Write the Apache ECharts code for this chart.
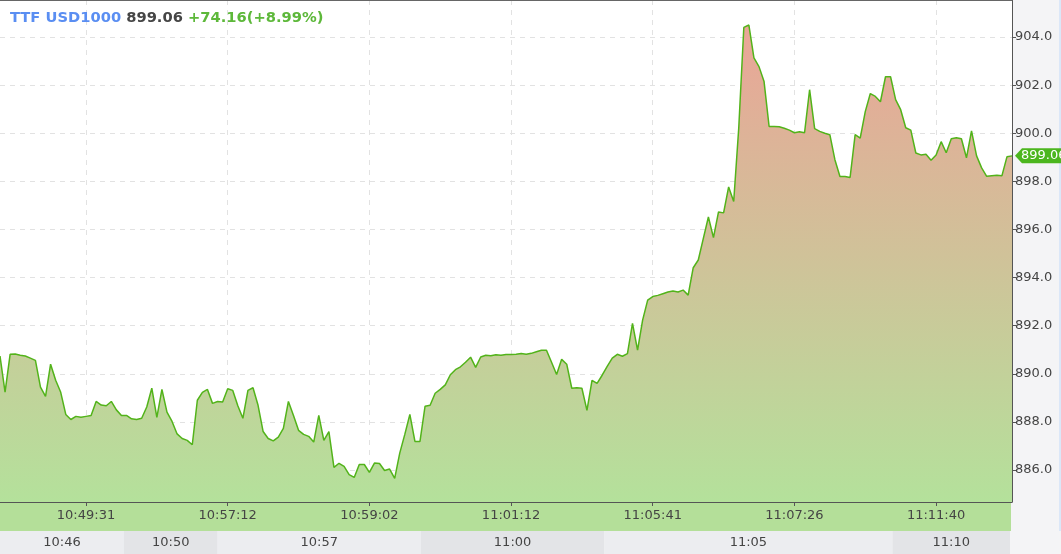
<!DOCTYPE html>
<html><head><meta charset="utf-8">
<script src="https://cdn.jsdelivr.net/npm/echarts@6/dist/echarts.min.js"></script>
<style>html,body{margin:0;padding:0;background:#f4f4f6}#c{width:1061px;height:554px}</style>
</head><body><div id="c"></div>
<script>
const instrument = 'TTF USD1000';
const lastPrice = 899.06;
const change = 74.16;
const changePct = 8.99;
const prices = [
890.74,889.24,890.81,890.82,890.77,890.74,890.65,890.56,889.45,889.06,
890.40,889.73,889.23,888.31,888.10,888.23,888.19,888.23,888.27,888.85,
888.70,888.67,888.85,888.50,888.27,888.27,888.13,888.10,888.15,888.62,
889.40,888.19,889.35,888.41,888.02,887.50,887.31,887.23,887.05,888.90,
889.23,889.35,888.77,888.85,888.83,889.38,889.31,888.67,888.15,889.31,
889.42,888.69,887.60,887.31,887.21,887.37,887.73,888.85,888.27,887.65,
887.48,887.40,887.16,888.27,887.23,887.60,886.11,886.28,886.15,885.81,
885.69,886.23,886.23,885.90,886.29,886.27,885.98,886.04,885.65,886.70,
887.48,888.31,887.19,887.19,888.65,888.69,889.19,889.35,889.54,889.96,
890.17,890.29,890.48,890.69,890.27,890.70,890.77,890.75,890.79,890.77,
890.80,890.80,890.81,890.84,890.81,890.85,890.92,890.98,890.98,890.48,
889.97,890.60,890.40,889.40,889.42,889.40,888.48,889.73,889.60,889.94,
890.31,890.65,890.81,890.73,890.84,892.10,890.98,892.23,893.06,893.21,
893.26,893.33,893.40,893.44,893.40,893.48,893.27,894.41,894.73,895.63,
896.52,895.66,896.73,896.69,897.77,897.16,900.23,904.40,904.50,903.13,
902.77,902.15,900.28,900.28,900.27,900.21,900.13,900.02,900.06,900.02,
901.81,900.19,900.08,900.00,899.94,898.90,898.20,898.20,898.16,899.94,
899.80,900.90,901.65,901.53,901.31,902.35,902.35,901.40,900.98,900.23,
900.13,899.18,899.10,899.13,898.88,899.10,899.65,899.19,899.77,899.81,
899.77,898.98,900.10,899.06,898.56,898.21,898.23,898.25,898.23,899.02,
899.06
];
const tickLabels = ['10:49:31','10:57:12','10:59:02','11:01:12','11:05:41','11:07:26','11:11:40'];
const tickIndices = [17,45,73,101,129,157,185];
const sessionLabels = ['10:46','10:50','10:57','11:00','11:05','11:10'];
const sessionBounds = [0,24.5,43,83.2,119.4,176.4,199.6];
const yMin = 884.67, yMax = 905.54;

const categories = prices.map(() => '');
tickIndices.forEach((ix, k) => { categories[ix] = tickLabels[k]; });
const showTick = (i, v) => v !== '';
const FONT = 'DejaVu Sans';
const lastIdx = prices.length - 1;

const sessionAreas = sessionLabels.map((lab, k) => [
  { xAxis: sessionBounds[k], name: lab, itemStyle: { color: k % 2 ? '#e3e4e7' : '#ecedf0' } },
  { xAxis: sessionBounds[k + 1] }
]);

const chart = echarts.init(document.getElementById('c'), null, { renderer: 'canvas' });
chart.setOption({
  backgroundColor: '#f4f4f6',
  animation: false,
  title: {
    text: '{a|' + instrument + '} {b|' + lastPrice.toFixed(2) + '} {c|+' + change.toFixed(2) + '(+' + changePct.toFixed(2) + '%)}',
    left: 10, top: 11, padding: 0,
    textStyle: {
      fontFamily: FONT, fontSize: 14.7, fontWeight: 'bold',
      rich: {
        a: { color: '#5a8ef2', fontFamily: FONT, fontSize: 14.7, fontWeight: 'bold' },
        b: { color: '#454545', fontFamily: FONT, fontSize: 14.7, fontWeight: 'bold' },
        c: { color: '#5db83a', fontFamily: FONT, fontSize: 14.7, fontWeight: 'bold' }
      }
    }
  },
  graphic: [{ type: 'rect', right: 0, top: 0, shape: { width: 2, height: 531 }, style: { fill: '#dbe7f8' }, silent: true }],
  grid: [
    { left: 0, top: 0, width: 1012, height: 502, show: true, backgroundColor: '#ffffff', borderWidth: 0 },
    { left: 0, top: 531, width: 1012, height: 23, show: false },
    { left: 0, top: 502, width: 1011, height: 29, show: true, backgroundColor: '#b4df99', borderWidth: 0, z: -1 }
  ],
  xAxis: [
    {
      gridIndex: 0, type: 'category', data: categories, boundaryGap: false,
      axisLine: { lineStyle: { color: '#555', width: 1 } },
      axisTick: { show: true, interval: showTick, length: 4, lineStyle: { color: '#555' } },
      axisLabel: { interval: showTick, color: '#444', fontFamily: FONT, fontSize: 13, margin: 7 },
      splitLine: { show: true, interval: showTick, lineStyle: { color: '#e2e2e2', type: [5, 5] } }
    },
    { gridIndex: 1, type: 'value', min: 0, max: lastIdx, show: false },
    { gridIndex: 2, type: 'value', min: 0, max: 1, show: false },
    {
      gridIndex: 0, type: 'category', data: categories, boundaryGap: false, position: 'top',
      axisLine: { show: true, lineStyle: { color: '#666', width: 1 } },
      axisTick: { show: false }, axisLabel: { show: false }, splitLine: { show: false }
    }
  ],
  yAxis: [
    {
      gridIndex: 0, type: 'value', position: 'right', min: yMin, max: yMax, splitNumber: 10,
      axisLine: { show: true, lineStyle: { color: '#555', width: 1 } },
      axisTick: { show: true, length: 4, lineStyle: { color: '#555' } },
      axisLabel: { color: '#444', fontFamily: FONT, fontSize: 13, margin: 3, showMinLabel: false, showMaxLabel: false,
        formatter: v => v.toFixed(1) },
      splitLine: { show: true, lineStyle: { color: '#e2e2e2', type: [5, 5] } }
    },
    { gridIndex: 1, type: 'value', min: 0, max: 1, show: false },
    { gridIndex: 2, type: 'value', min: 0, max: 1, show: false }
  ],
  series: [
    {
      type: 'line', xAxisIndex: 0, yAxisIndex: 0, data: prices, symbol: 'none',
      lineStyle: { color: '#52b31a', width: 1.5 },
      areaStyle: {
        opacity: 1,
        color: new echarts.graphic.LinearGradient(0, 0, 0, 1, [
          { offset: 0, color: '#eaa597' },
          { offset: 1, color: '#b4e19b' }
        ])
      },
      markPoint: {
        symbol: 'path://M0,8 L7,0 L60,0 L60,16 L7,16 Z',
        symbolSize: [60, 15], symbolKeepAspect: false,
        symbolOffset: [33, 0],
        itemStyle: { color: '#4cb61e' },
        label: { show: true, position: 'insideLeft', distance: 6, color: '#fff', fontFamily: FONT, fontSize: 13,
          formatter: p => p.value.toFixed(2) },
        data: [{ coord: [lastIdx, lastPrice], value: lastPrice }]
      }
    },
    {
      type: 'line', xAxisIndex: 1, yAxisIndex: 1, data: [[0, 0]], symbol: 'none',
      lineStyle: { opacity: 0 }, silent: true,
      markArea: {
        silent: true,
        label: { show: true, position: 'inside', color: '#444', fontFamily: FONT, fontSize: 13 },
        data: sessionAreas
      }
    }
  ]
});
</script></body></html>
